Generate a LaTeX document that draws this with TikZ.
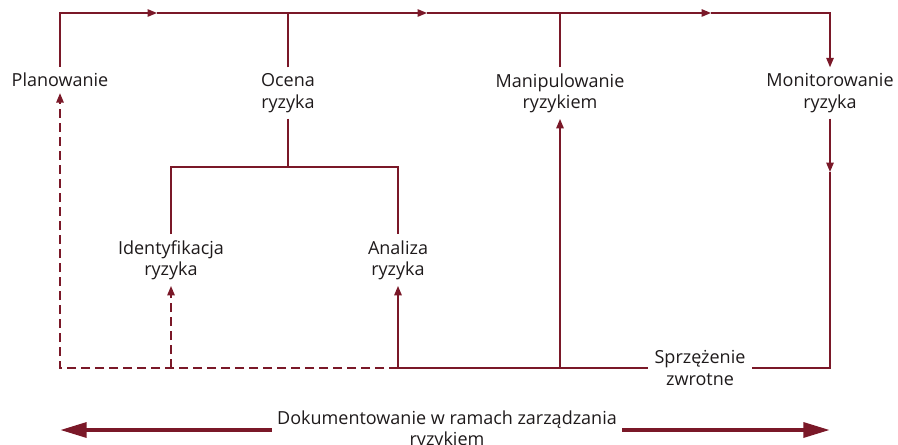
\documentclass[tikz,border=0pt]{standalone}
\usepackage{fontspec}
\setmainfont{Open Sans}
\usetikzlibrary{arrows.meta}
\definecolor{maroon}{RGB}{122,24,40}
\definecolor{ink}{RGB}{30,26,27}

\begin{document}
\begin{tikzpicture}[x=0.75pt,y=-0.75pt,>={Triangle[length=7pt,width=5.5pt]},
  font=\fontsize{13.5}{16}\selectfont,
  lbl/.style={align=center,text=ink,inner xsep=4pt,inner ysep=4.5pt},
  flow/.style={draw=maroon,line width=1.1pt},
  dflow/.style={flow,dash pattern=on 7pt off 3.5pt},
  bigarrow/.style={draw=maroon,line width=3.2pt,-{Triangle[length=20pt,width=11pt]}}]
\useasboundingbox (0,0) rectangle (898,445);
% etapy
\node[lbl] (plan) at (60,80) {Planowanie};
\node[lbl] (ocena) at (288,93) {Ocena\\ryzyka};
\node[lbl] (manip) at (560,93) {Manipulowanie\\ryzykiem};
\node[lbl] (monit) at (830,93) {Monitorowanie\\ryzyka};
\node[lbl] (ident) at (171,260) {Identyfikacja\\ryzyka};
\node[lbl] (anal) at (398,260) {Analiza\\ryzyka};
\node[lbl,inner xsep=5pt] (fb) at (700,368) {Sprzężenie\\zwrotne};
\node[lbl,inner xsep=4pt] (docu) at (447,430) {Dokumentowanie w ramach zarządzania\\ryzykiem};
\coordinate (a1) at (157,13);
\coordinate (a2) at (427,13);
\coordinate (a3) at (711,13);
\coordinate (split) at (288,167);
\coordinate (m1) at (830,172);
\coordinate (dl) at (60,430);
\coordinate (dr) at (830,430);
% gorna linia
\draw[flow,->] (plan.north) |- (a1);
\draw[flow,->] (a1) -- (a2);
\draw[flow,->] (a2) -- (a3);
\draw[flow,->] (a3) -| (monit.north);
\draw[flow] (ocena.north) -- (ocena.north |- a1);
\draw[flow] (manip.north) -- (manip.north |- a1);
% ocena ryzyka
\draw[flow] (ocena.south) -- (split);
\draw[flow] (ident.north) |- (split) -| (anal.north);
% sprzezenie zwrotne
\draw[flow,->] (monit.south) -- (m1);
\draw[flow] (m1) |- (fb.east);
\draw[flow] (fb.west) -- (anal.south |- fb.west);
\draw[flow,->] (manip.south |- fb.west) -- (manip.south);
\draw[flow,->] (anal.south |- fb.west) -- (anal.south);
\draw[dflow,->] (anal.south |- fb.west) -| (plan.south);
\draw[dflow,->] (ident.south |- fb.west) -- (ident.south);
% dokumentowanie
\draw[bigarrow] (docu.west) -- (dl);
\draw[bigarrow] (docu.east) -- (dr);
\end{tikzpicture}
\end{document}
